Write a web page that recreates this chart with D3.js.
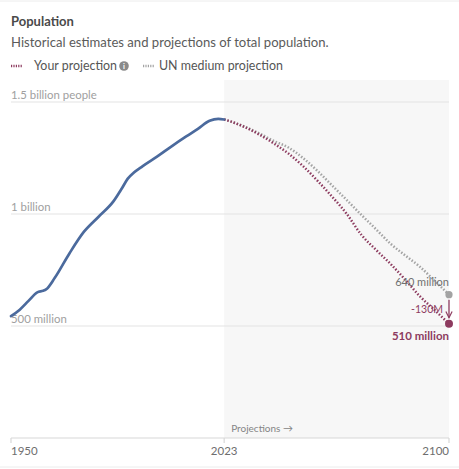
<!DOCTYPE html>
<meta charset="utf-8">
<style>
body { margin: 0; background: #fff; }
svg { display: block; font-family: Lato, "Open Sans", sans-serif; }
</style>
<svg width="459" height="469"></svg>
<script src="https://d3js.org/d3.v7.min.js"></script>
<script>

// historical estimates (millions)
var histYears = [1950, 1953, 1956, 1959, 1961, 1962, 1965, 1970, 1975, 1980, 1985, 1988, 1990, 1992, 1995, 2000, 2005, 2010, 2014, 2018, 2021, 2023];
var histPop   = [544, 573, 612, 650, 657, 663, 715, 824, 921, 988, 1055, 1115, 1158, 1184, 1213, 1256, 1302, 1346, 1380, 1416, 1425, 1422];

// projections (millions)
var projYears = [2023, 2025, 2030, 2035, 2040, 2045, 2050, 2055, 2060, 2065, 2070, 2075, 2080, 2085, 2090, 2095, 2100];
var yourProj  = [1422, 1414, 1388, 1355, 1315, 1270, 1214, 1148, 1077, 1000, 907, 840, 777, 707, 633, 572, 510];
var unProj    = [1422, 1414, 1390, 1360, 1326, 1297, 1250, 1192, 1127, 1062, 996, 932, 867, 815, 765, 703, 640];

var yTicks = [500, 1000, 1500];
var yTickLabels = ["500 million", "1 billion", "1.5 billion people"];
var xTicks = [1950, 2023, 2100];

var blue = "#4b6a9d", red = "#8d3b5f", grey = "#a3a3a3";

var svg = d3.select("svg"),
    width = +svg.attr("width"),
    height = +svg.attr("height");

var x = d3.scaleLinear().domain([1950, 2100]).range([11, 449]),
    y = d3.scaleLinear().domain([0, 1500]).range([438, 102]);

// frame lines
svg.append("line").attr("x1", 0).attr("x2", width).attr("y1", 1).attr("y2", 1)
    .attr("stroke", "#ececec");
svg.append("line").attr("x1", 0).attr("x2", width).attr("y1", 467).attr("y2", 467)
    .attr("stroke", "#ececec");

// title + subtitle
svg.append("text").attr("x", 11).attr("y", 26)
    .style("font-size", "13px").style("font-weight", "bold").attr("fill", "#4a4a4a")
    .text("Population");
svg.append("text").attr("x", 11).attr("y", 47)
    .style("font-size", "13.1px").attr("fill", "#5b5b5b")
    .text("Historical estimates and projections of total population.");

// legend
var lg = svg.append("g");
lg.append("line").attr("x1", 11).attr("x2", 22).attr("y1", 66).attr("y2", 66)
    .attr("stroke", red).attr("stroke-width", 2.5).attr("stroke-dasharray", "1.2,1.2");
lg.append("text").attr("x", 34).attr("y", 70).style("font-size", "12.4px").attr("fill", "#555")
    .text("Your projection");
lg.append("circle").attr("cx", 124).attr("cy", 66).attr("r", 4.8).attr("fill", "#8a8a8a");
lg.append("text").attr("x", 124).attr("y", 69).attr("text-anchor", "middle")
    .style("font-size", "7.5px").style("font-weight", "bold").attr("fill", "#fff").text("i");
lg.append("line").attr("x1", 143).attr("x2", 154).attr("y1", 66).attr("y2", 66)
    .attr("stroke", grey).attr("stroke-width", 2.5).attr("stroke-dasharray", "1.2,1.2");
lg.append("text").attr("x", 159).attr("y", 70).style("font-size", "12.4px").attr("fill", "#555")
    .text("UN medium projection");

// projection shading
svg.append("rect")
    .attr("x", x(2023)).attr("y", 80)
    .attr("width", x(2100) - x(2023)).attr("height", y(0) - 80)
    .attr("fill", "#f7f7f7");

// gridlines
var grid = svg.append("g").selectAll("g").data(yTicks).join("g");
grid.append("line")
    .attr("x1", x(1950)).attr("x2", x(2100))
    .attr("y1", function(d) { return y(d); }).attr("y2", function(d) { return y(d); })
    .attr("stroke", "#e3e3e3");
grid.append("text")
    .attr("x", x(1950)).attr("y", function(d) { return y(d) - 3.5; })
    .style("font-size", "11.4px").attr("fill", "#a0a0a0")
    .text(function(d, i) { return yTickLabels[i]; });

// x axis
svg.append("line").attr("x1", x(1950)).attr("x2", x(2100)).attr("y1", y(0)).attr("y2", y(0))
    .attr("stroke", "#d8d8d8").attr("stroke-width", 1.2);
svg.append("g").selectAll("line").data(xTicks).join("line")
    .attr("x1", function(d) { return x(d); }).attr("x2", function(d) { return x(d); })
    .attr("y1", y(0)).attr("y2", y(0) + 5)
    .attr("stroke", "#d8d8d8").attr("stroke-width", 1.2);
svg.append("g").selectAll("text").data(xTicks).join("text")
    .attr("x", function(d) { return x(d); }).attr("y", 455)
    .attr("text-anchor", function(d, i) { return i == 0 ? "start" : (i == xTicks.length - 1 ? "end" : "middle"); })
    .style("font-size", "11.5px").attr("fill", "#6e6e6e")
    .text(function(d) { return d; });

svg.append("text").attr("x", x(2023) + 7).attr("y", 432)
    .style("font-size", "10px").attr("fill", "#858585")
    .text("Projections \u2192");

// lines
var line = d3.line()
    .x(function(d) { return x(d[0]); })
    .y(function(d) { return y(d[1]); })
    .curve(d3.curveMonotoneX);

svg.append("path")
    .datum(d3.zip(projYears, unProj))
    .attr("d", line).attr("fill", "none")
    .attr("stroke", grey).attr("stroke-width", 2.5).attr("stroke-dasharray", "1.5,1.8");

svg.append("path")
    .datum(d3.zip(projYears, yourProj))
    .attr("d", line).attr("fill", "none")
    .attr("stroke", red).attr("stroke-width", 2.5).attr("stroke-dasharray", "1.5,1.8");

svg.append("path")
    .datum(d3.zip(histYears, histPop))
    .attr("d", line).attr("fill", "none")
    .attr("stroke", blue).attr("stroke-width", 2.7).attr("stroke-linecap", "round");

// end markers
var lastYear = projYears[projYears.length - 1],
    unEnd = unProj[unProj.length - 1],
    yourEnd = yourProj[yourProj.length - 1];

var defs = svg.append("defs");
defs.append("marker").attr("id", "arrow")
    .attr("viewBox", "0 0 10 10").attr("refX", 9).attr("refY", 5)
    .attr("markerWidth", 6).attr("markerHeight", 6).attr("orient", "auto")
  .append("path").attr("d", "M1,1 L9,5 L1,9").attr("fill", "none")
    .attr("stroke", red).attr("stroke-width", 1.5);

svg.append("line")
    .attr("x1", x(lastYear)).attr("x2", x(lastYear))
    .attr("y1", y(unEnd) + 5).attr("y2", y(yourEnd) - 6)
    .attr("stroke", red).attr("stroke-width", 1.3).attr("marker-end", "url(#arrow)");

svg.append("circle").attr("cx", x(lastYear)).attr("cy", y(unEnd)).attr("r", 3.6).attr("fill", grey);
svg.append("circle").attr("cx", x(lastYear)).attr("cy", y(yourEnd)).attr("r", 4).attr("fill", red);

svg.append("text").attr("x", x(lastYear)).attr("y", y(unEnd) - 9)
    .attr("text-anchor", "end").style("font-size", "11px").attr("fill", "#707070")
    .text(unEnd + " million");
svg.append("text").attr("x", x(lastYear) - 6).attr("y", (y(unEnd) + y(yourEnd)) / 2 + 3.5)
    .attr("text-anchor", "end").style("font-size", "10.5px").attr("fill", red)
    .text((yourEnd - unEnd) + "M");
svg.append("text").attr("x", x(lastYear)).attr("y", y(yourEnd) + 16)
    .attr("text-anchor", "end").style("font-size", "11.5px").style("font-weight", "bold").attr("fill", red)
    .text(yourEnd + " million");

</script>
